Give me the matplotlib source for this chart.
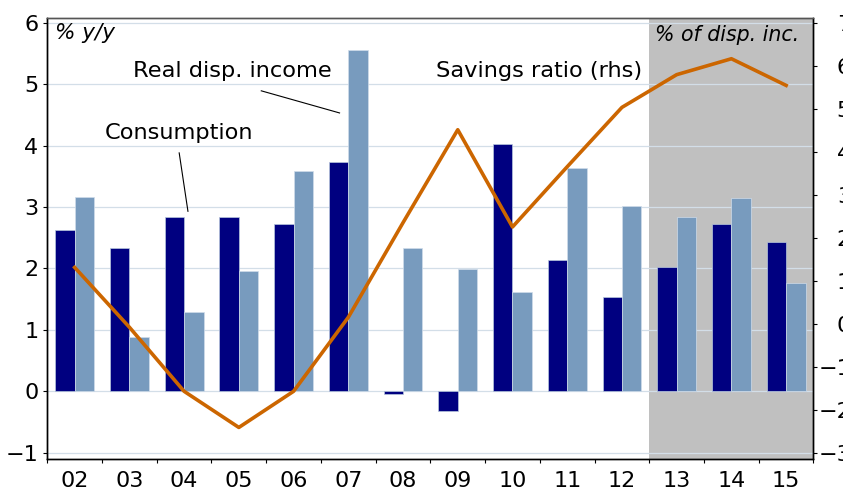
import matplotlib
matplotlib.use("Agg")
from matplotlib import pyplot as plt
import numpy as np

years = ["02", "03", "04", "05", "06", "07", "08", "09", "10", "11", "12", "13", "14", "15"]
consumption = [2.63, 2.33, 2.83, 2.83, 2.73, 3.74, -0.04, -0.32, 4.03, 2.13, 1.53, 2.03, 2.73, 2.43]
real_income = [3.17, 0.88, 1.29, 1.96, 3.58, 5.56, 2.33, 1.99, 1.62, 3.64, 3.02, 2.83, 3.14, 1.76]
savings_ratio = [1.31, -0.08, -1.57, -2.41, -1.57, 0.15, 2.35, 4.51, 2.25, 3.65, 5.03, 5.79, 6.16, 5.54]
forecast_start = 11  # 2013 onwards shaded

NAVY = "#000080"
LIGHT = "#789bbe"
ORANGE = "#cc6600"
GRID = "#d3dee8"
SHADE = "#c0c0c0"

plt.rcParams['font.family'] = ['DejaVu Sans']

fig = plt.figure(figsize=(8.43, 4.94), dpi=100)
ax = fig.add_axes([0.0561, 0.0709, 0.9089, 0.8933])
ax2 = ax.twinx()

x = np.arange(len(years))
w = 0.355
ax.axvspan(forecast_start - 0.5, len(years) - 0.5, color=SHADE, zorder=0, lw=0)
ax.bar(x - w / 2, consumption, w, color=NAVY, edgecolor="#b8c8dc", linewidth=0.5, zorder=2)
ax.bar(x + w / 2, real_income, w, color=LIGHT, edgecolor="#d0dcea", linewidth=0.5, zorder=2)

ax.set_xlim(-0.5, len(years) - 0.5)
ax.set_ylim(-1.1, 6.08)
ax.set_yticks(range(-1, 7))
ax.set_axisbelow(True)
ax.yaxis.grid(True, color=GRID, linewidth=0.9)

ax.set_xticks(x)
ax.set_xticklabels(years)
ax.set_xticks(np.arange(-0.5, len(years)), minor=True)
ax.tick_params(axis='x', which='major', length=0, pad=9, labelsize=16)
ax.tick_params(axis='x', which='minor', length=3, width=0.8, direction='out')
ax.tick_params(axis='y', length=3, width=0.8, pad=3.5, labelsize=16)

# right axis: savings ratio, -3..7 aligned with left -1..6
lo, hi = ax.get_ylim()
ax2.set_ylim(-3 + (lo + 1) * 10 / 7, -3 + (hi + 1) * 10 / 7)
ax2.set_yticks(range(-3, 8))
ax2.plot(x, savings_ratio, color=ORANGE, linewidth=2.6, zorder=3)
ax2.tick_params(axis='y', length=3, width=0.8, pad=24, labelsize=16)
for lab in ax2.get_yticklabels():
    lab.set_horizontalalignment('right')

for a in (ax, ax2):
    a.spines['top'].set_color('#555555')
    a.spines['top'].set_linewidth(1.0)
    for s in ('left', 'right', 'bottom'):
        a.spines[s].set_linewidth(1.0)

# labels
ax.text(0.010, 0.951, "% y/y", transform=ax.transAxes, fontsize=15.5, style='italic', va='baseline')
ax.text(0.793, 0.948, "% of disp. inc.", transform=ax.transAxes, fontsize=14.8, style='italic', va='baseline')
ax.text(2.88, 5.11, "Real disp. income", fontsize=16.2, ha='center', va='baseline')
ax.text(1.91, 4.11, "Consumption", fontsize=16.2, ha='center', va='baseline')
ax.text(8.48, 5.11, "Savings ratio (rhs)", fontsize=16.2, ha='center', va='baseline')
ax.plot([3.41, 4.84], [4.89, 4.53], color='black', linewidth=0.8, zorder=4)
ax.plot([1.91, 2.07], [3.88, 2.93], color='black', linewidth=0.8, zorder=4)

fig.savefig("out.png", dpi=100)
